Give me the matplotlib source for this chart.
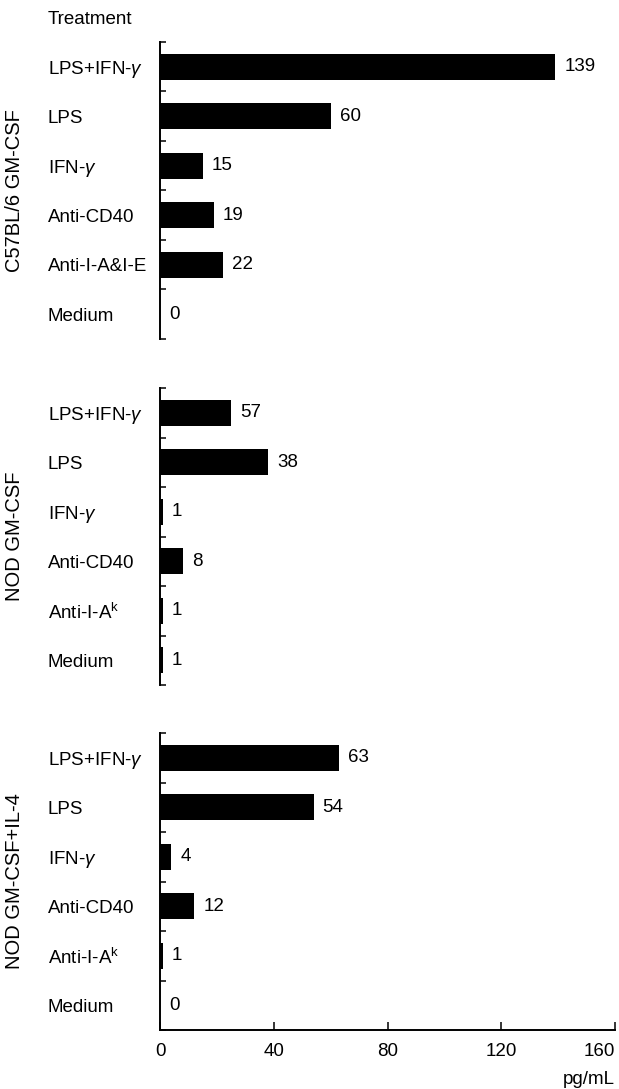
import matplotlib
matplotlib.use("Agg")
import matplotlib.pyplot as plt

plt.rcParams['font.family'] = ['Liberation Sans', 'DejaVu Sans']
plt.rcParams['mathtext.fontset'] = 'custom'
plt.rcParams['mathtext.rm'] = 'Liberation Sans'
plt.rcParams['mathtext.it'] = 'Liberation Sans:italic'

groups = ['C57BL/6 GM-CSF', 'NOD GM-CSF', 'NOD GM-CSF+IL-4']
treatments = [
    ['LPS+IFN-$\\gamma$', 'LPS', 'IFN-$\\gamma$', 'Anti-CD40', 'Anti-I-A&I-E', 'Medium'],
    ['LPS+IFN-$\\gamma$', 'LPS', 'IFN-$\\gamma$', 'Anti-CD40', 'Anti-I-A$^\\mathrm{k}$', 'Medium'],
    ['LPS+IFN-$\\gamma$', 'LPS', 'IFN-$\\gamma$', 'Anti-CD40', 'Anti-I-A$^\\mathrm{k}$', 'Medium'],
]
# bar lengths as drawn in the picture
bar_values = [
    [139, 60, 15, 19, 22, 0],
    [25, 38, 1, 8, 1, 1],
    [63, 54, 4, 12, 1, 0],
]
# numbers printed next to the bars
bar_labels = [
    ['139', '60', '15', '19', '22', '0'],
    ['57', '38', '1', '8', '1', '1'],
    ['63', '54', '4', '12', '1', '0'],
]
xticks = [0, 40, 80, 120, 160]

W, H = 619, 1089
fig = plt.figure(figsize=(W / 100, H / 100), dpi=100)

left = 160 / W
width = (615 - 160) / W
tops = [42, 388, 733]
ph = 297

fs = 13.5
for i in range(3):
    top = tops[i]
    ax = fig.add_axes([left, 1 - (top + ph) / H, width, ph / H])
    n = len(treatments[i])
    ypos = list(range(n))
    ax.barh(ypos, bar_values[i], height=0.53, color='black')
    for y, v, lab in zip(ypos, bar_values[i], bar_labels[i]):
        ax.annotate(lab, (v, y), xytext=(6.5, 0), textcoords='offset points',
                    va='center', ha='left', fontsize=fs)
    ax.set_xlim(0, 160)
    ax.set_ylim(n - 0.5, -0.5)
    ax.set_yticks(ypos)
    ax.set_yticklabels(treatments[i], ha='left', fontsize=fs)
    ax.tick_params(axis='y', which='major', length=0, pad=112 * 0.72)
    ax.set_yticks([y - 0.5 for y in range(n + 1)], minor=True)
    ax.tick_params(axis='y', which='minor', direction='in', length=4.5, width=1.1)
    ax.spines['top'].set_visible(False)
    ax.spines['right'].set_visible(False)
    ax.spines['left'].set_linewidth(1.4)
    if i < 2:
        ax.spines['bottom'].set_visible(False)
        ax.set_xticks([])
    else:
        ax.spines['bottom'].set_linewidth(1.4)
        ax.set_xticks(xticks)
        ax.set_xticklabels([str(t) for t in xticks], fontsize=fs)
        ax.get_xticklabels()[-1].set_ha('right')
        ax.tick_params(axis='x', direction='in', length=6, width=1.1, pad=9)
    fig.text(15 / W, 1 - (top + ph / 2) / H, groups[i], rotation=90,
             ha='center', va='center', fontsize=14.5)

fig.text(48 / W, 1 - 20 / H, 'Treatment', ha='left', va='center', fontsize=fs)
fig.text(615 / W, 1 - 1079 / H, 'pg/mL', ha='right', va='center', fontsize=fs)

fig.savefig('out.png', dpi=100)
